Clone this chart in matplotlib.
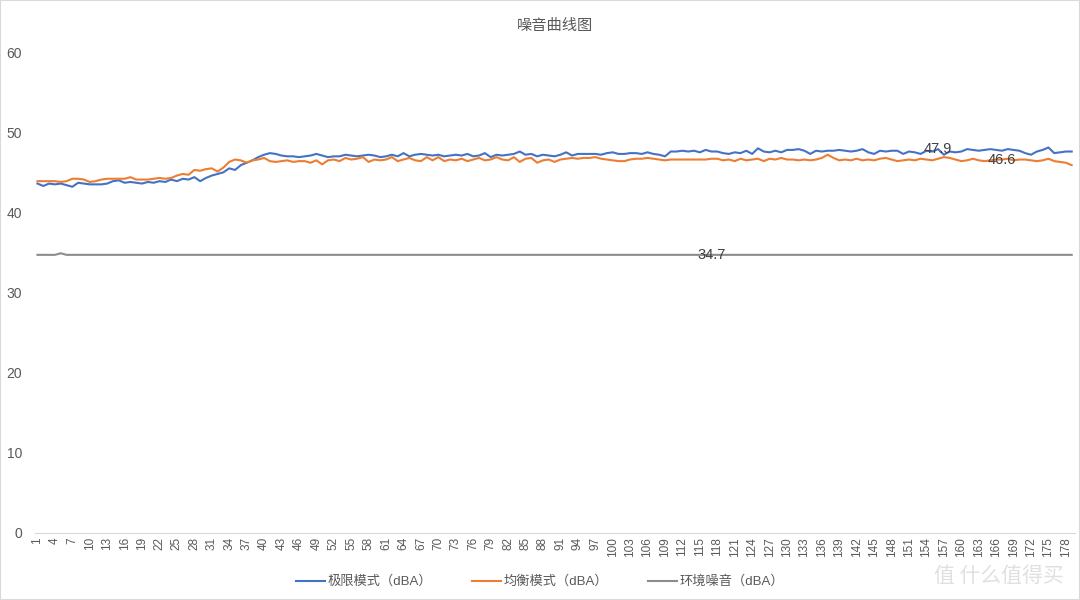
import numpy as np
import matplotlib
matplotlib.use("Agg")
import matplotlib.pyplot as plt

plt.rcParams['font.family'] = ['Liberation Sans', 'Noto Sans CJK SC', 'DejaVu Sans']

title = "噪音曲线图"
names = ["极限模式（dBA）", "均衡模式（dBA）", "环境噪音（dBA）"]

extreme = [
    43.6, 43.3, 43.6, 43.5, 43.6, 43.4, 43.2, 43.7, 43.6, 43.5,
    43.5, 43.5, 43.6, 43.9, 44.0, 43.7, 43.8, 43.7, 43.6, 43.8,
    43.7, 43.9, 43.8, 44.1, 43.9, 44.2, 44.1, 44.4, 43.9, 44.3,
    44.6, 44.8, 45.0, 45.5, 45.3, 45.9, 46.2, 46.5, 46.9, 47.2,
    47.4, 47.3, 47.1, 47.0, 47.0, 46.9, 47.0, 47.1, 47.3, 47.1,
    46.9, 47.0, 47.0, 47.2, 47.1, 47.0, 47.1, 47.2, 47.1, 46.9,
    47.0, 47.2, 47.0, 47.4, 47.0, 47.2, 47.3, 47.2, 47.1, 47.2,
    47.0, 47.1, 47.2, 47.1, 47.3, 47.0, 47.1, 47.4, 46.9, 47.2,
    47.1, 47.2, 47.3, 47.6, 47.2, 47.3, 47.0, 47.2, 47.1, 47.0,
    47.2, 47.5, 47.1, 47.3, 47.3, 47.3, 47.3, 47.2, 47.4, 47.5,
    47.3, 47.3, 47.4, 47.4, 47.3, 47.5, 47.3, 47.2, 47.0, 47.6,
    47.6, 47.7, 47.6, 47.7, 47.5, 47.8, 47.6, 47.6, 47.4, 47.3,
    47.5, 47.4, 47.7, 47.3, 48.0, 47.6, 47.5, 47.7, 47.5, 47.8,
    47.8, 47.9, 47.7, 47.3, 47.7, 47.6, 47.7, 47.7, 47.8, 47.7,
    47.6, 47.7, 47.9, 47.5, 47.3, 47.7, 47.6, 47.7, 47.7, 47.3,
    47.6, 47.5, 47.3, 47.7, 47.6, 47.9, 47.2, 47.6, 47.5, 47.6,
    47.9, 47.8, 47.7, 47.8, 47.9, 47.8, 47.7, 47.9, 47.8, 47.7,
    47.4, 47.2, 47.6, 47.8, 48.1, 47.4, 47.5, 47.6, 47.6,
]

balanced = [
    43.9, 43.9, 43.9, 43.9, 43.8, 43.9, 44.2, 44.2, 44.1, 43.8,
    43.9, 44.1, 44.2, 44.2, 44.2, 44.2, 44.4, 44.1, 44.1, 44.1,
    44.2, 44.3, 44.2, 44.3, 44.6, 44.8, 44.7, 45.3, 45.2, 45.4,
    45.5, 45.1, 45.6, 46.3, 46.6, 46.5, 46.2, 46.5, 46.6, 46.8,
    46.4, 46.3, 46.4, 46.5, 46.3, 46.4, 46.4, 46.2, 46.5, 46.0,
    46.5, 46.6, 46.4, 46.8, 46.6, 46.7, 46.9, 46.3, 46.6, 46.5,
    46.6, 46.9, 46.4, 46.6, 46.8, 46.5, 46.4, 46.9, 46.5, 46.9,
    46.4, 46.6, 46.5, 46.7, 46.4, 46.6, 46.8, 46.5, 46.6, 46.9,
    46.6, 46.5, 46.9, 46.3, 46.7, 46.8, 46.2, 46.5, 46.6, 46.3,
    46.6, 46.7, 46.8, 46.7, 46.8, 46.8, 46.9, 46.7, 46.6, 46.5,
    46.4, 46.4, 46.6, 46.7, 46.7, 46.8, 46.7, 46.6, 46.5, 46.6,
    46.6, 46.6, 46.6, 46.6, 46.6, 46.6, 46.7, 46.7, 46.5, 46.6,
    46.4, 46.7, 46.5, 46.6, 46.7, 46.4, 46.7, 46.6, 46.8, 46.6,
    46.6, 46.5, 46.6, 46.5, 46.6, 46.8, 47.2, 46.8, 46.5, 46.6,
    46.5, 46.7, 46.5, 46.6, 46.5, 46.7, 46.8, 46.6, 46.4, 46.5,
    46.6, 46.5, 46.7, 46.6, 46.5, 46.7, 46.9, 46.8, 46.6, 46.4,
    46.5, 46.7, 46.5, 46.4, 46.5, 46.6, 46.6, 46.7, 46.5, 46.6,
    46.6, 46.5, 46.4, 46.5, 46.7, 46.4, 46.3, 46.2, 45.9,
]

ambient = [34.7] * 179
ambient[4] = 34.9

categories = [str(i) for i in range(1, len(extreme) + 1)]

# data labels shown on the chart: (series index, point index)
labels = [(0, 155), (1, 166), (2, 116)]

colors = ["#4472C4", "#ED7D31", "#8C8C8C"]
series = [extreme, balanced, ambient]

fig = plt.figure(figsize=(10.8, 6), dpi=100)
ax = fig.add_axes([0.032, 0.112, 0.963, 0.801])
x = np.arange(len(categories))
for vals, c, n in zip(series, colors, names):
    ax.plot(x, vals, color=c, lw=1.5, label=n)

for si, pi in labels:
    ax.text(x[pi], series[si][pi], "%.1f" % series[si][pi], ha="center", va="center",
            fontsize=10.5, color="#404040")

ax.set_xlim(-0.5, len(categories) - 0.5)
ax.set_ylim(0, 60)
ax.set_yticks(range(0, 61, 10))
ax.set_xticks(x[::3])
ax.set_xticklabels(categories[::3], rotation=90, fontsize=8.5, color="#595959")
ax.tick_params(axis="y", length=0, pad=9, labelsize=10, labelcolor="#595959")
ax.tick_params(axis="x", length=0, pad=3)
for s in ["top", "right", "left"]:
    ax.spines[s].set_visible(False)
ax.spines["bottom"].set_color("#D9D9D9")

ax.set_title(title, fontsize=11, color="#595959", pad=16)

fig.legend(loc="lower center", bbox_to_anchor=(0.5, 0.0), ncol=3, frameon=False,
           fontsize=9.5, labelcolor="#595959", handlelength=2.2, handletextpad=0.2,
           columnspacing=3.0)

fig.text(0.985, 0.022, "值 什么值得买", ha="right", va="bottom", fontsize=15,
         color="#E0E0E0", family=["Noto Sans CJK SC", "DejaVu Sans"])

fig.patches.append(plt.Rectangle((0, 0), 1, 1, transform=fig.transFigure,
                                 fill=False, ec="#D9D9D9", lw=1.5))

fig.savefig("out.png", dpi=100)
